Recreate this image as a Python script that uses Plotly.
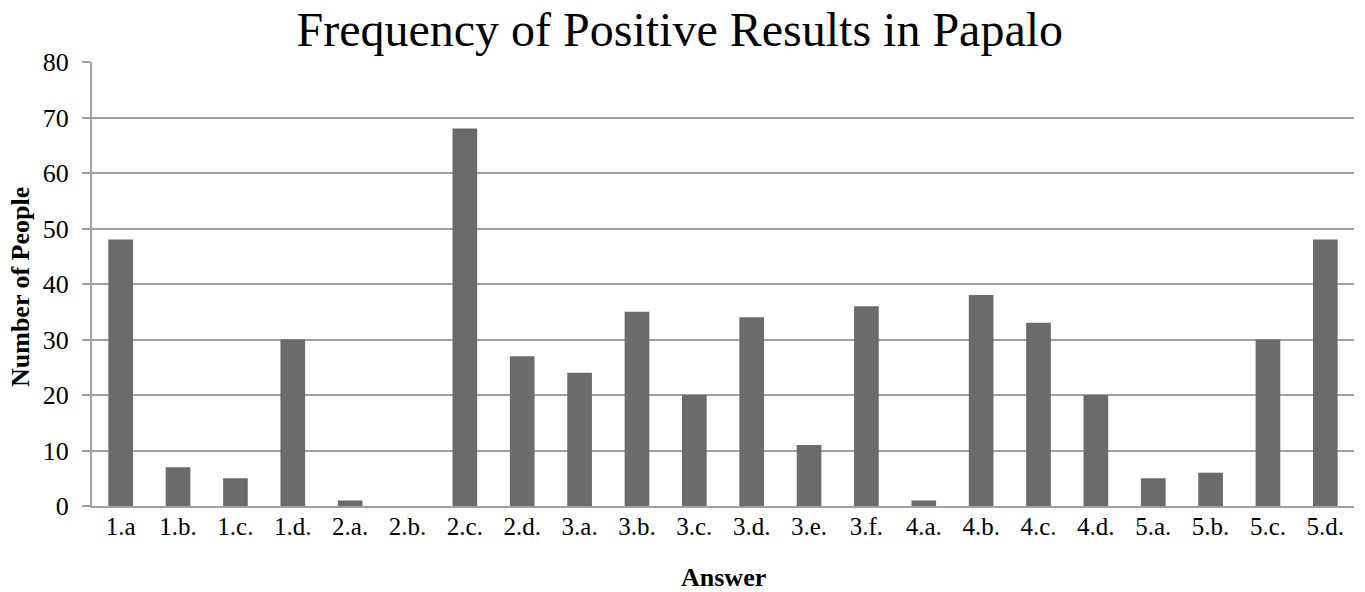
import plotly.graph_objects as go

categories = ["1.a", "1.b.", "1.c.", "1.d.", "2.a.", "2.b.", "2.c.", "2.d.", "3.a.", "3.b.", "3.c.",
              "3.d.", "3.e.", "3.f.", "4.a.", "4.b.", "4.c.", "4.d.", "5.a.", "5.b.", "5.c.", "5.d."]
values = [48, 7, 5, 30, 1, 0, 68, 27, 24, 35, 20, 34, 11, 36, 1, 38, 33, 20, 5, 6, 30, 48]
y_ticks = [0, 10, 20, 30, 40, 50, 60, 70, 80]

font_family = "Liberation Serif, Times New Roman, serif"

fig = go.Figure(go.Bar(x=categories, y=values, marker=dict(color="#6b6b6b", line=dict(width=0))))

fig.update_layout(
    width=1365, height=592,
    margin=dict(l=92, r=11, t=62, b=86),
    paper_bgcolor="white", plot_bgcolor="white",
    bargap=0.57,
    showlegend=False,
    font=dict(family=font_family, color="black"),
    title=dict(text="Frequency of Positive Results in Papalo", x=0.498, xanchor="center",
               xref="container",
               y=1 - 29 / 592, yanchor="middle", font=dict(size=48, family=font_family, color="black")),
    xaxis=dict(
        automargin=False,
        tickfont=dict(size=25, family=font_family),
        showline=True, linecolor="#a0a0a0", linewidth=2,
        ticks="", showgrid=False, ticklabelstandoff=-3,
    ),
    yaxis=dict(
        automargin=False,
        tickfont=dict(size=26, family=font_family),
        range=[0, 80], tickvals=y_ticks,
        showgrid=True, gridcolor="#a0a0a0", gridwidth=2,
        showline=True, linecolor="#a0a0a0", linewidth=2,
        ticks="outside", ticklen=8, tickcolor="#a0a0a0", tickwidth=2,
        zeroline=False, ticklabelstandoff=8,
    ),
    annotations=[
        dict(text="<b>Answer</b>", xref="paper", yref="paper", x=0.5, y=-(577 - 506) / 444,
             xanchor="center", yanchor="middle", showarrow=False,
             font=dict(size=26, family=font_family, color="black")),
        dict(text="<b>Number of People</b>", xref="paper", yref="paper", x=-(92 - 20) / 1262,
             y=(506 - 287) / 444, xanchor="center", yanchor="middle", textangle=-90, showarrow=False,
             font=dict(size=26, family=font_family, color="black")),
    ],
)

fig.write_html("out.html", config={"displayModeBar": False},
               post_script="document.body.style.margin='0';document.body.style.overflow='hidden';")
